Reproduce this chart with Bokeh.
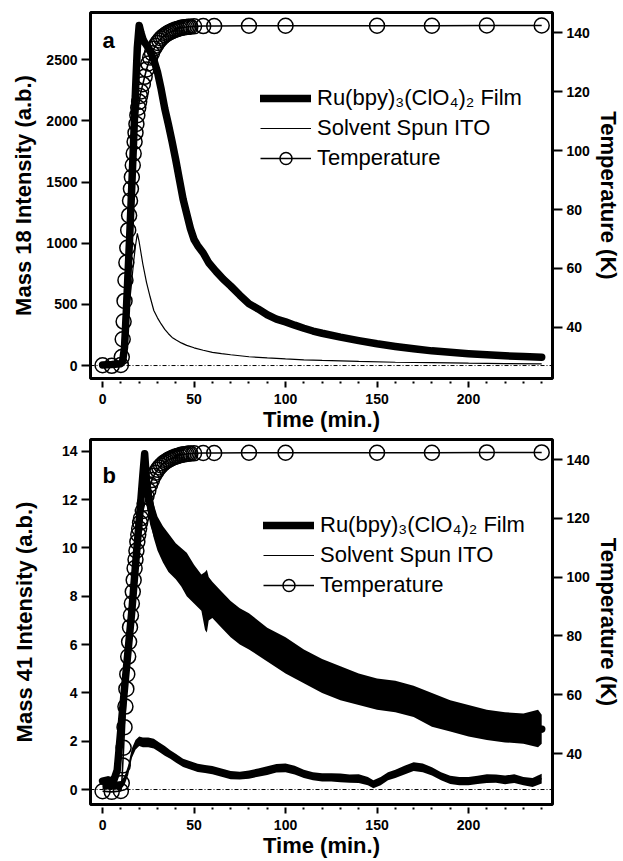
from bokeh.plotting import figure
from bokeh.models import (Range1d, LinearAxis, FixedTicker, Span, Legend,
                          LegendItem, Label)
from bokeh.layouts import column
from bokeh.embed import file_html
from bokeh.resources import INLINE

FONT = "Liberation Sans"

# ---------------- axes / ticks ----------------
x_major = [0, 50, 100, 150, 200]
x_minor = [10, 20, 30, 40, 60, 70, 80, 90, 110, 120, 130, 140, 160, 170, 180,
           190, 210, 220, 230, 240]
temp_ticks = [40, 60, 80, 100, 120, 140]
mass18_ticks = [0, 500, 1000, 1500, 2000, 2500]
mass41_ticks = [0, 2, 4, 6, 8, 10, 12, 14]

# ---------------- temperature (K), both panels ----------------
temp_t = [0, 5, 10, 10.5, 11, 11.5, 12, 12.5, 13, 13.5, 14, 14.5, 15, 15.5, 16,
          16.5, 17, 17.5, 18, 18.5, 19, 19.5, 20, 20.5, 21, 22, 23, 24, 25, 26,
          27, 28, 29, 30, 31, 32, 33, 34, 35, 36, 37, 38, 39, 40, 41, 42, 43, 44,
          45, 46, 47, 48, 50, 55, 61, 80, 100, 150, 180, 210, 240]
temp_k = [27.2, 27.0, 27.3, 30.0, 36.0, 42.0, 49.0, 56.0, 62.0, 67.0, 73.0, 78.0,
          83.0, 87.0, 91.0, 95.0, 99.0, 103.0, 106.0, 109.0, 112.0, 114.5, 116.5,
          118.5, 120.0, 122.5, 125.0, 127.5, 129.5, 131.5, 133.0, 134.5, 135.5,
          136.5, 137.3, 138.0, 138.6, 139.1, 139.5, 139.9, 140.2, 140.5, 140.8,
          141.0, 141.2, 141.4, 141.6, 141.7, 141.8, 141.9, 142.0, 142.0, 142.1,
          142.2, 142.2, 142.3, 142.3, 142.3, 142.3, 142.4, 142.4]

# ---------------- panel a : mass 18 ----------------
film_a_t = [0, 5, 10, 11, 12, 13, 14, 15, 16, 17, 18, 19, 20, 21, 22, 23, 24, 26,
            28, 30, 32, 34, 36, 38, 40, 42, 44, 46, 48, 50, 52, 55, 58, 62, 66, 70,
            75, 80, 85, 90, 95, 100, 105, 110, 115, 120, 130, 140, 150, 160, 170,
            180, 190, 200, 210, 220, 230, 240]
film_a = [5, 8, 15, 40, 150, 450, 780, 1120, 1480, 1850, 2250, 2600, 2780, 2720,
          2670, 2640, 2620, 2570, 2500, 2400, 2260, 2100, 1970, 1830, 1680, 1520,
          1360, 1240, 1120, 1030, 980, 920, 840, 770, 705, 650, 575, 505, 463, 415,
          380, 357, 330, 305, 282, 264, 232, 204, 178, 156, 137, 120, 108, 97, 88,
          80, 73, 68]
ito_a_t = [0, 5, 10, 11, 12, 13, 14, 15, 16, 17, 18, 19, 20, 21, 22, 24, 26, 28,
           30, 32, 34, 36, 38, 40, 43, 46, 50, 55, 60, 65, 70, 80, 90, 100, 110,
           120, 140, 160, 180, 200, 220, 240]
ito_a = [0, 0, 5, 30, 120, 250, 400, 550, 700, 850, 980, 1080, 1010, 920, 830,
         680, 560, 450, 390, 340, 295, 260, 230, 210, 185, 165, 145, 125, 108, 97,
         88, 72, 62, 54, 47, 42, 34, 27, 23, 19, 16, 14]

# ---------------- panel b : mass 41 ----------------
film_b_t = [0, 3, 6, 8, 10, 12, 14, 16, 18, 20, 22, 23, 24, 25, 26, 28, 30, 33,
            36, 40, 43, 46, 50, 54, 56, 57, 58, 60, 65, 70, 75, 80, 90, 100, 110,
            120, 130, 140, 150, 160, 170, 180, 190, 200, 210, 220, 230, 240]
film_b = [0.35, 0.4, 0.35, 0.8, 2.5, 4.2, 5.8, 7.4, 9.3, 11.1, 13.0, 13.9, 12.8,
          12.2, 11.8, 11.0, 10.5, 10.1, 9.8, 9.5, 9.2, 8.9, 8.5, 8.2, 7.6, 7.5,
          7.9, 7.9, 7.5, 7.1, 6.8, 6.5, 6.0, 5.5, 5.1, 4.7, 4.4, 4.15, 4.0, 3.85,
          3.65, 3.3, 3.1, 2.9, 2.75, 2.65, 2.6, 2.5]
film_b_band_t = [24, 26, 28, 30, 33, 36, 40, 43, 46, 50, 54, 56, 57, 58, 60, 65,
                 70, 75, 80, 90, 100, 110, 120, 130, 140, 150, 160, 170, 180, 190,
                 200, 210, 220, 230, 238, 240]
film_b_lo = [11.8, 11.1, 10.4, 9.9, 9.4, 9.0, 8.7, 8.4, 8.0, 7.7, 7.4, 6.6, 6.5,
             7.0, 7.1, 6.7, 6.3, 6.0, 5.8, 5.3, 4.8, 4.4, 4.0, 3.7, 3.5, 3.3, 3.2,
             3.0, 2.6, 2.4, 2.2, 2.05, 1.95, 1.9, 1.75, 1.9]
film_b_hi = [13.2, 12.6, 11.8, 11.3, 10.9, 10.6, 10.2, 10.0, 9.8, 9.3, 8.9, 9.0,
             9.1, 8.8, 8.6, 8.2, 7.8, 7.5, 7.3, 6.7, 6.3, 5.8, 5.4, 5.1, 4.8, 4.6,
             4.5, 4.3, 4.0, 3.7, 3.5, 3.3, 3.2, 3.15, 3.3, 3.1]
ito_b_t = [0, 5, 10, 12, 14, 16, 18, 20, 22, 25, 28, 31, 34, 37, 40, 44, 48, 52,
           56, 60, 65, 70, 75, 80, 85, 90, 95, 100, 105, 110, 115, 120, 125, 130,
           135, 140, 145, 148, 152, 156, 160, 165, 170, 175, 180, 185, 190, 195,
           200, 205, 210, 215, 220, 225, 230, 235, 240]
ito_b = [0.15, 0.1, 0.15, 0.35, 0.8, 1.5, 1.85, 2.0, 1.95, 1.95, 1.9, 1.75, 1.6,
         1.45, 1.3, 1.1, 1.0, 0.9, 0.85, 0.8, 0.7, 0.6, 0.58, 0.62, 0.7, 0.78,
         0.88, 0.9, 0.8, 0.65, 0.55, 0.5, 0.5, 0.48, 0.45, 0.45, 0.35, 0.2, 0.35,
         0.55, 0.65, 0.8, 0.95, 0.9, 0.75, 0.55, 0.4, 0.35, 0.35, 0.4, 0.45, 0.45,
         0.4, 0.45, 0.35, 0.3, 0.45]
ito_b_lo = [0.0, 0.0, 0.0, 0.2, 0.6, 1.3, 1.65, 1.8, 1.75, 1.75, 1.7, 1.55, 1.4,
            1.27, 1.12, 0.93, 0.83, 0.73, 0.68, 0.63, 0.53, 0.43, 0.42, 0.45, 0.53,
            0.6, 0.7, 0.72, 0.62, 0.48, 0.38, 0.33, 0.33, 0.3, 0.28, 0.27, 0.18,
            0.05, 0.18, 0.38, 0.48, 0.62, 0.77, 0.72, 0.58, 0.38, 0.23, 0.18, 0.18,
            0.23, 0.27, 0.28, 0.22, 0.27, 0.18, 0.1, 0.25]
ito_b_hi = [0.35, 0.3, 0.35, 0.55, 1.0, 1.7, 2.05, 2.2, 2.15, 2.15, 2.1, 1.95, 1.8,
            1.63, 1.48, 1.27, 1.17, 1.07, 1.02, 0.97, 0.87, 0.77, 0.74, 0.79, 0.87,
            0.96, 1.06, 1.08, 0.98, 0.82, 0.72, 0.67, 0.67, 0.66, 0.62, 0.63, 0.52,
            0.38, 0.52, 0.72, 0.82, 0.98, 1.13, 1.08, 0.92, 0.72, 0.57, 0.52, 0.52,
            0.57, 0.63, 0.62, 0.58, 0.63, 0.52, 0.48, 0.65]

series_labels = ["Ru(bpy)\u2083(ClO\u2084)\u2082 Film", "Solvent Spun ITO", "Temperature"]


def style_axis(ax, label, tin, tout, standoff, lab_standoff):
    ax.axis_label = label
    ax.axis_label_text_font = FONT
    ax.axis_label_text_font_style = "bold"
    ax.axis_label_text_font_size = "22px"
    ax.axis_label_text_color = "black"
    ax.axis_label_standoff = lab_standoff
    ax.major_label_text_font = FONT
    ax.major_label_text_font_style = "bold"
    ax.major_label_text_font_size = "14px"
    ax.major_label_text_color = "black"
    ax.major_label_standoff = standoff
    ax.axis_line_color = None
    ax.major_tick_line_color = "black"
    ax.major_tick_line_width = 2
    ax.major_tick_in = tin
    ax.major_tick_out = tout
    ax.minor_tick_line_color = "black"
    ax.minor_tick_line_width = 2
    ax.minor_tick_in = tin
    ax.minor_tick_out = 5


def make_panel(letter, ylabel, y_rng, y_ticks, top, frame_h, bottom, letter_y,
               y_bounds, y_lab_standoff, t_bounds):
    p = figure(frame_width=462, frame_height=frame_h,
               min_border_left=90, min_border_right=71,
               min_border_top=top, min_border_bottom=bottom,
               x_range=Range1d(-6.6, 245.9), y_range=Range1d(*y_rng),
               output_backend="svg", toolbar_location=None,
               x_axis_type=None, y_axis_type=None)
    p.grid.visible = False
    p.outline_line_color = "black"
    p.outline_line_width = 3
    p.outline_line_alpha = 1.0
    p.background_fill_color = "white"
    p.border_fill_color = "white"
    p.extra_y_ranges = {"temp": Range1d(22.7, 146.8)}

    xa = LinearAxis(ticker=FixedTicker(ticks=x_major, minor_ticks=x_minor))
    style_axis(xa, "Time (min.)", -3, 9, 6, 0)
    p.add_layout(xa, "below")

    ya = LinearAxis(ticker=FixedTicker(ticks=y_ticks, minor_ticks=[]),
                    bounds=y_bounds)
    style_axis(ya, ylabel, 0, 9, 4, y_lab_standoff)
    p.add_layout(ya, "left")

    ta = LinearAxis(y_range_name="temp", bounds=t_bounds,
                    ticker=FixedTicker(ticks=temp_ticks, minor_ticks=[]))
    style_axis(ta, "Temperature (K)", 0, 10, 4, 3)
    p.add_layout(ta, "right")

    p.add_layout(Span(location=0, dimension="width", line_color="black",
                      line_width=1, line_dash="4 2 1 2"))

    p.add_layout(Label(x=12, y=letter_y, x_units="screen", y_units="screen",
                       text=letter, text_font=FONT, text_font_size="22px",
                       text_font_style="bold", text_color="black",
                       text_baseline="alphabetic"))
    return p


def add_legend(p, r_film, r_ito, r_tl, r_tc, loc):
    items = [LegendItem(label=series_labels[0], renderers=[r_film]),
             LegendItem(label=series_labels[1], renderers=[r_ito]),
             LegendItem(label=series_labels[2], renderers=[r_tl, r_tc])]
    lg = Legend(items=items, location=loc, padding=0, margin=0, spacing=0,
                glyph_width=51, glyph_height=30, label_height=30,
                label_standoff=6, label_text_font=FONT,
                label_text_font_size="22px", label_text_color="black",
                border_line_color=None, background_fill_alpha=0)
    p.add_layout(lg)


# ---------------- panel a ----------------
pa = make_panel("a", "Mass 18 Intensity (a.b.)", (-106, 2886), mass18_ticks,
                12, 366, 55, 338, (-106, 2542), 7, (25, 140))
ta_l = pa.line(temp_t, temp_k, y_range_name="temp", line_color="black",
               line_width=1.6)
ta_c = pa.scatter(temp_t, temp_k, y_range_name="temp", marker="circle", size=15,
                  fill_alpha=0, line_color="black", line_width=1.5)
ia = pa.line(ito_a_t, ito_a, line_color="black", line_width=1.2)
fa = pa.line(film_a_t, film_a, line_color="black", line_width=7.5,
             line_cap="round", line_join="round")
add_legend(pa, fa, ia, ta_l, ta_c, (170, 205))

# ---------------- panel b ----------------
pb = make_panel("b", "Mass 41 Intensity (a.b.)", (-0.62, 14.49), mass41_ticks,
                5, 365, 55, 329, (-1.0, 14.0), 22, (24.2, 140))
tb_l = pb.line(temp_t, temp_k, y_range_name="temp", line_color="black",
               line_width=1.6)
tb_c = pb.scatter(temp_t, temp_k, y_range_name="temp", marker="circle", size=15,
                  fill_alpha=0, line_color="black", line_width=1.5)
pb.varea(x=ito_b_t, y1=ito_b_lo, y2=ito_b_hi, fill_color="black")
ib = pb.line(ito_b_t, ito_b, line_color="black", line_width=1.2)
pb.varea(x=film_b_band_t, y1=film_b_lo, y2=film_b_hi, fill_color="black")
fb = pb.line(film_b_t, film_b, line_color="black", line_width=7.5,
             line_cap="round", line_join="round")
add_legend(pb, fb, ib, tb_l, tb_c, (173, 204))

layout = column(pa, pb, spacing=0)
open("out.html", "w").write(file_html(layout, INLINE))
